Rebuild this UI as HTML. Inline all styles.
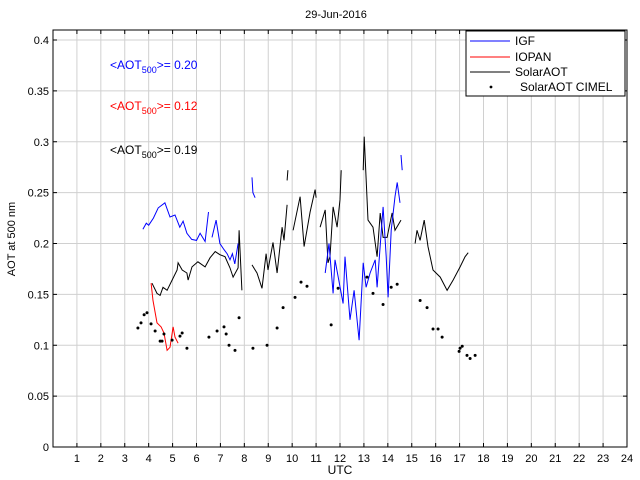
<!DOCTYPE html>
<html><head><meta charset="utf-8"><style>
body{margin:0;background:#fff;}
svg{display:block;font-family:"Liberation Sans",sans-serif;}
</style></head><body>
<svg id="chart" width="640" height="480">
<rect x="0" y="0" width="640" height="480" fill="#fff"/>
<g id="grid"></g>
<g id="series"></g>
<rect x="53" y="30" width="574" height="417" fill="none" stroke="#000" stroke-width="1"/>
<g id="ticks"></g>
<text x="336" y="18" font-size="11" text-anchor="middle">29-Jun-2016</text>
<text x="340" y="474" font-size="12" text-anchor="middle">UTC</text>
<text transform="translate(15,239) rotate(-90)" font-size="11" text-anchor="middle">AOT at 500 nm</text>
<text x="110" y="69" font-size="12" fill="#0000ff">&lt;AOT<tspan font-size="9" dy="4">500</tspan><tspan dy="-4">&gt;= 0.20</tspan></text>
<text x="110" y="110" font-size="12" fill="#ff0000">&lt;AOT<tspan font-size="9" dy="4">500</tspan><tspan dy="-4">&gt;= 0.12</tspan></text>
<text x="110" y="154" font-size="12" fill="#000">&lt;AOT<tspan font-size="9" dy="4">500</tspan><tspan dy="-4">&gt;= 0.19</tspan></text>
<g>
<rect x="466" y="31" width="159" height="65" fill="#fff" stroke="#000" stroke-width="1"/>
<line x1="470" y1="41" x2="510" y2="41" stroke="#0000ff"/>
<text x="515" y="45" font-size="12">IGF</text>
<line x1="470" y1="57" x2="510" y2="57" stroke="#ff0000"/>
<text x="515" y="61" font-size="12">IOPAN</text>
<line x1="470" y1="72" x2="510" y2="72" stroke="#000"/>
<text x="515" y="76" font-size="12">SolarAOT</text>
<circle cx="491" cy="87" r="1.4" fill="#000"/>
<text x="520" y="91" font-size="12">SolarAOT CIMEL</text>
</g>
</svg>
<script>
const xTicks=[1,2,3,4,5,6,7,8,9,10,11,12,13,14,15,16,17,18,19,20,21,22,23,24];
const yTicks=[0,0.05,0.1,0.15,0.2,0.25,0.3,0.35,0.4];
const yTickLabels=["0","0.05","0.1","0.15","0.2","0.25","0.3","0.35","0.4"];
const igfHours=[3.76,3.9,4.0,4.2,4.4,4.68,4.89,5.1,5.3,5.44,5.6,5.8,6.0,6.15,6.36,6.5,null,6.65,6.82,6.98,7.15,7.28,7.40,7.5,7.6,7.74,null,8.32,8.36,8.45,null,11.38,11.54,11.71,11.79,12.13,12.21,12.42,12.59,12.8,12.97,13.09,13.26,13.47,13.55,13.80,13.93,14.01,14.14,14.30,14.39,14.51,null,14.55,14.60];
const igfValues=[0.214,0.22,0.218,0.225,0.235,0.24,0.226,0.228,0.216,0.222,0.21,0.204,0.203,0.21,0.202,0.231,null,0.206,0.223,0.2,0.194,0.19,0.184,0.19,0.18,0.2,null,0.265,0.25,0.245,null,0.171,0.2,0.151,0.184,0.141,0.187,0.125,0.154,0.105,0.181,0.157,0.171,0.184,0.157,0.236,0.187,0.147,0.213,0.246,0.26,0.24,null,0.287,0.272];
const iopanHours=[4.10,4.18,4.35,4.52,4.64,4.77,4.89,5.02,5.10,5.23];
const iopanValues=[0.161,0.144,0.122,0.118,0.112,0.095,0.098,0.118,0.108,0.102];
const solarHours=[4.14,4.35,4.48,4.60,4.77,4.98,5.19,5.23,5.40,5.60,5.65,5.81,6.06,6.36,6.57,6.78,6.98,7.19,7.40,7.53,7.74,7.78,7.90,null,8.32,8.53,8.74,8.91,8.99,9.20,9.37,9.58,9.66,9.79,null,9.79,9.82,null,10.04,10.33,10.50,10.75,10.96,11.0,null,11.17,11.38,11.50,11.58,11.71,11.88,12.0,12.05,null,12.97,13.01,13.17,13.38,13.55,13.68,13.80,13.97,14.18,14.30,14.55,null,15.14,15.22,15.35,15.52,15.68,15.89,16.19,16.48,16.73,17.02,17.23,17.36];
const solarValues=[0.161,0.151,0.149,0.157,0.154,0.164,0.174,0.181,0.174,0.171,0.164,0.177,0.182,0.177,0.186,0.192,0.189,0.187,0.176,0.167,0.176,0.213,0.154,null,0.179,0.171,0.156,0.19,0.174,0.201,0.171,0.216,0.203,0.238,null,0.262,0.272,null,0.213,0.246,0.197,0.231,0.253,0.245,null,0.216,0.233,0.181,0.187,0.236,0.216,0.243,0.272,null,0.272,0.305,0.223,0.216,0.187,0.23,0.206,0.206,0.23,0.213,0.223,null,0.2,0.213,0.203,0.223,0.197,0.174,0.167,0.154,0.164,0.177,0.187,0.191];
const cimelHours=[3.55,3.68,3.81,3.93,4.10,4.27,4.48,4.56,4.64,4.98,5.31,5.40,5.60,6.52,6.86,7.15,7.24,7.36,7.61,7.78,8.36,8.95,9.37,9.62,10.12,10.37,10.62,11.63,11.92,13.13,13.38,13.80,14.14,14.39,15.35,15.64,15.89,16.10,16.27,16.98,17.02,17.11,17.31,17.44,17.65];
const cimelValues=[0.117,0.122,0.13,0.132,0.121,0.114,0.104,0.104,0.111,0.105,0.109,0.112,0.097,0.108,0.114,0.118,0.111,0.1,0.095,0.127,0.097,0.1,0.117,0.137,0.147,0.162,0.158,0.12,0.156,0.167,0.151,0.14,0.157,0.16,0.144,0.137,0.116,0.116,0.108,0.094,0.097,0.099,0.09,0.087,0.09];
const NS="http://www.w3.org/2000/svg";
const X0=53,X1=627,XMAX=24,Y0=447,YPER=1017.5;
function xs(h){return X0+h*(X1-X0)/XMAX;}
function ys(v){return Y0-v*YPER;}
const grid=document.getElementById('grid'),ticks=document.getElementById('ticks'),ser=document.getElementById('series');
function mk(tag,attrs,parent){const e=document.createElementNS(NS,tag);for(const k in attrs)e.setAttribute(k,attrs[k]);parent.appendChild(e);return e;}
xTicks.forEach(t=>{
  const g=mk('line',{x1:xs(t),x2:xs(t),y1:30,y2:447,stroke:'#d0d0d0','stroke-width':1},grid);
  
  
  mk('line',{x1:xs(t),x2:xs(t),y1:447,y2:443,stroke:'#000'},ticks);
  mk('line',{x1:xs(t),x2:xs(t),y1:30,y2:34,stroke:'#000'},ticks);
  const tx=mk('text',{x:xs(t),y:462,'font-size':11,'text-anchor':'middle'},ticks);
  tx.textContent=t;
  
  
});
yTicks.forEach((t,i)=>{
  const g=mk('line',{x1:53,x2:627,y1:ys(t),y2:ys(t),stroke:'#d0d0d0','stroke-width':1},grid);
  
  
  mk('line',{x1:53,x2:57,y1:ys(t),y2:ys(t),stroke:'#000'},ticks);
  mk('line',{x1:623,x2:627,y1:ys(t),y2:ys(t),stroke:'#000'},ticks);
  const tx=mk('text',{x:49,y:ys(t)+4,'font-size':11,'text-anchor':'end'},ticks);
  tx.textContent=yTickLabels[i];
  
  
});
function drawLine(hours,vals,color,name){
  let d='',pen=false;
  hours.forEach((h,i)=>{
    if(h===null||vals[i]===null){pen=false;return;}
    d+=(pen?'L':'M')+xs(h).toFixed(1)+' '+ys(vals[i]).toFixed(1)+' ';pen=true;
  });
  const p=mk('path',{d:d,fill:'none',stroke:color,'stroke-width':1},ser);
  
  
}
drawLine(solarHours,solarValues,'#000','solaraot-line');
drawLine(igfHours,igfValues,'#0000ff','igf-line');
drawLine(iopanHours,iopanValues,'#ff0000','iopan-line');
cimelHours.forEach((h,i)=>{
  const c=mk('circle',{cx:xs(h),cy:ys(cimelValues[i]),r:1.5,fill:'#000'},ser);
  
  
});
</script>
</body></html>
